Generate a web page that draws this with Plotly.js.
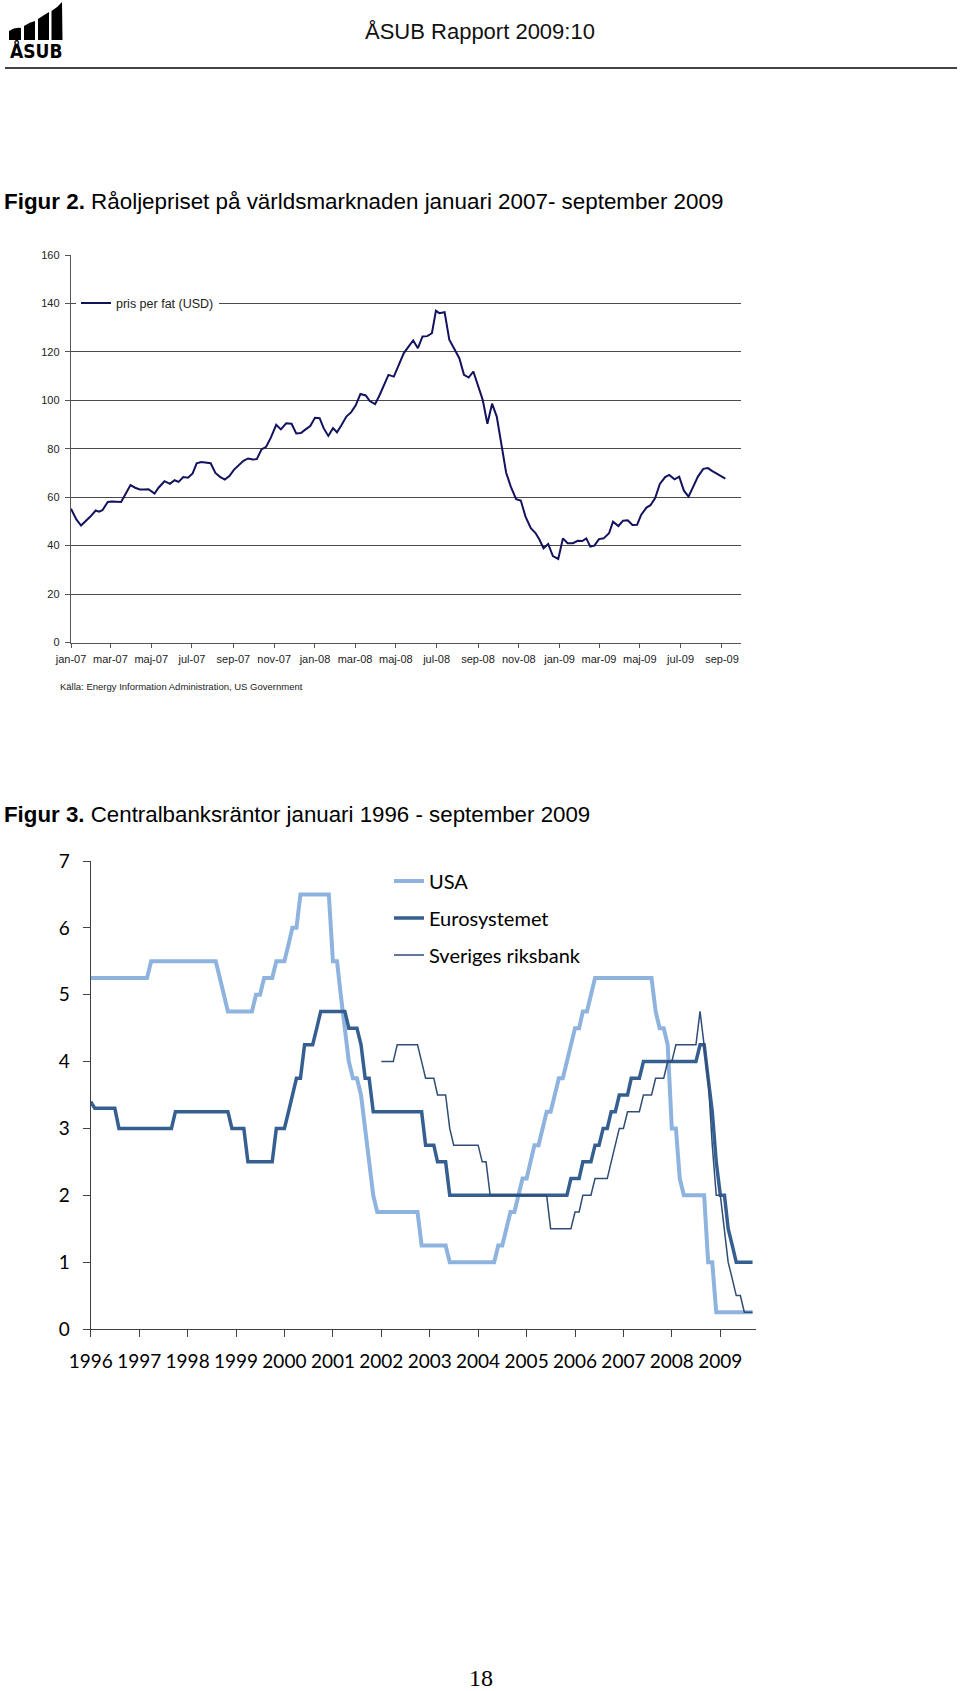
<!DOCTYPE html>
<html>
<head>
<meta charset="utf-8">
<script src="https://cdn.plot.ly/plotly-3.0.1.min.js"></script>
<style>
  html, body { margin: 0; padding: 0; background: #fff; }
  #chart { width: 960px; height: 1691px; }
</style>
</head>
<body>
<div id="chart"></div>
<script>
// ---------- Figur 2: oil price (weekly, USD per barrel) ----------
const oilDates = ["2007-01-01","2007-01-09","2007-01-16","2007-01-23","2007-01-30","2007-02-07","2007-02-12","2007-02-17","2007-02-25","2007-03-03","2007-03-11","2007-03-17","2007-03-24","2007-03-31","2007-04-07","2007-04-14","2007-04-20","2007-04-27","2007-05-06","2007-05-12","2007-05-21","2007-05-29","2007-06-05","2007-06-11","2007-06-18","2007-06-25","2007-07-02","2007-07-08","2007-07-15","2007-07-22","2007-07-29","2007-08-05","2007-08-12","2007-08-19","2007-08-26","2007-09-02","2007-09-09","2007-09-16","2007-09-23","2007-09-30","2007-10-06","2007-10-13","2007-10-20","2007-10-27","2007-11-04","2007-11-11","2007-11-19","2007-11-27","2007-12-04","2007-12-11","2007-12-18","2007-12-25","2008-01-01","2008-01-08","2008-01-14","2008-01-21","2008-01-28","2008-02-03","2008-02-10","2008-02-17","2008-02-24","2008-03-02","2008-03-09","2008-03-17","2008-03-23","2008-03-31","2008-04-07","2008-04-14","2008-04-20","2008-04-28","2008-05-05","2008-05-13","2008-05-20","2008-05-27","2008-06-03","2008-06-10","2008-06-17","2008-06-24","2008-06-30","2008-07-05","2008-07-13","2008-07-20","2008-07-27","2008-08-04","2008-08-11","2008-08-18","2008-08-25","2008-09-01","2008-09-08","2008-09-15","2008-09-22","2008-09-29","2008-10-06","2008-10-13","2008-10-20","2008-10-28","2008-11-04","2008-11-11","2008-11-19","2008-11-26","2008-12-02","2008-12-08","2008-12-15","2008-12-22","2008-12-30","2009-01-06","2009-01-13","2009-01-21","2009-01-28","2009-02-04","2009-02-10","2009-02-16","2009-02-22","2009-03-01","2009-03-08","2009-03-16","2009-03-22","2009-03-30","2009-04-06","2009-04-13","2009-04-20","2009-04-27","2009-05-03","2009-05-11","2009-05-17","2009-05-24","2009-05-31","2009-06-08","2009-06-14","2009-06-22","2009-06-29","2009-07-06","2009-07-13","2009-07-20","2009-07-27","2009-08-04","2009-08-11","2009-08-17","2009-08-24","2009-08-30","2009-09-06"];
const oilPrice = [55.2,50.8,48.3,50,52,54.5,54,54.6,58,58.2,58.2,58,61.5,65,63.9,63.2,63.2,63.3,61.5,63.9,66.6,65.5,67,66.3,68.3,68,69.8,74,74.5,74.1,74,70,68.4,67.3,68.7,71.4,73.1,75,76,75.6,75.7,79.7,80.8,84.6,89.9,88,90.5,90.3,86.3,86.5,88,89.4,92.8,92.6,88.5,85.3,88.5,86.8,89.9,93.3,95,97.9,102.6,102,99.7,98.4,102.3,106.8,110.5,109.8,114.5,119.5,122.2,124.7,121.5,126.4,126.5,127.7,137,136,136.4,125,121.5,117.4,110.5,109.4,111.9,106.4,100.2,90.3,98.6,93.3,80.9,70.2,64.4,59.2,58.6,52,47.2,45.2,42.4,38.9,40.7,35.7,34.5,43,41,41,42,41.9,43,39.6,40,42.7,43,45.1,49.9,48.1,50.3,50.5,48.5,48.6,52.7,55.7,56.7,59.6,65.5,68.3,69.2,67.4,68.5,62.7,60.2,64.6,68.5,71.7,72,70.9,69.8,68.8,67.7];
const oilTickVals = ["2007-01-01","2007-03-01","2007-05-01","2007-07-01","2007-09-01","2007-11-01","2008-01-01","2008-03-01","2008-05-01","2008-07-01","2008-09-01","2008-11-01","2009-01-01","2009-03-01","2009-05-01","2009-07-01","2009-09-01"];
const oilTickText = ["jan-07","mar-07","maj-07","jul-07","sep-07","nov-07","jan-08","mar-08","maj-08","jul-08","sep-08","nov-08","jan-09","mar-09","maj-09","jul-09","sep-09"];
const oilSeriesName = "pris per fat (USD)";

// ---------- Figur 3: central bank rates (monthly, %) ----------
const rateMonths = [
"1996-01","1996-02","1996-03","1996-04","1996-05","1996-06","1996-07","1996-08","1996-09","1996-10","1996-11","1996-12",
"1997-01","1997-02","1997-03","1997-04","1997-05","1997-06","1997-07","1997-08","1997-09","1997-10","1997-11","1997-12",
"1998-01","1998-02","1998-03","1998-04","1998-05","1998-06","1998-07","1998-08","1998-09","1998-10","1998-11","1998-12",
"1999-01","1999-02","1999-03","1999-04","1999-05","1999-06","1999-07","1999-08","1999-09","1999-10","1999-11","1999-12",
"2000-01","2000-02","2000-03","2000-04","2000-05","2000-06","2000-07","2000-08","2000-09","2000-10","2000-11","2000-12",
"2001-01","2001-02","2001-03","2001-04","2001-05","2001-06","2001-07","2001-08","2001-09","2001-10","2001-11","2001-12",
"2002-01","2002-02","2002-03","2002-04","2002-05","2002-06","2002-07","2002-08","2002-09","2002-10","2002-11","2002-12",
"2003-01","2003-02","2003-03","2003-04","2003-05","2003-06","2003-07","2003-08","2003-09","2003-10","2003-11","2003-12",
"2004-01","2004-02","2004-03","2004-04","2004-05","2004-06","2004-07","2004-08","2004-09","2004-10","2004-11","2004-12",
"2005-01","2005-02","2005-03","2005-04","2005-05","2005-06","2005-07","2005-08","2005-09","2005-10","2005-11","2005-12",
"2006-01","2006-02","2006-03","2006-04","2006-05","2006-06","2006-07","2006-08","2006-09","2006-10","2006-11","2006-12",
"2007-01","2007-02","2007-03","2007-04","2007-05","2007-06","2007-07","2007-08","2007-09","2007-10","2007-11","2007-12",
"2008-01","2008-02","2008-03","2008-04","2008-05","2008-06","2008-07","2008-08","2008-09","2008-10","2008-11","2008-12",
"2009-01","2009-02","2009-03","2009-04","2009-05","2009-06","2009-07","2009-08","2009-09"];

const usaRate = [
5.25,5.25,5.25,5.25,5.25,5.25,5.25,5.25,5.25,5.25,5.25,5.25,
5.25,5.25,5.25,5.5,5.5,5.5,5.5,5.5,5.5,5.5,5.5,5.5,
5.5,5.5,5.5,5.5,5.5,5.5,5.5,5.5,5.25,5.0,4.75,4.75,
4.75,4.75,4.75,4.75,4.75,5.0,5.0,5.25,5.25,5.25,5.5,5.5,
5.5,5.75,6.0,6.0,6.5,6.5,6.5,6.5,6.5,6.5,6.5,6.5,
5.5,5.5,5.0,4.5,4.0,3.75,3.75,3.5,3.0,2.5,2.0,1.75,
1.75,1.75,1.75,1.75,1.75,1.75,1.75,1.75,1.75,1.75,1.25,1.25,
1.25,1.25,1.25,1.25,1.25,1.0,1.0,1.0,1.0,1.0,1.0,1.0,
1.0,1.0,1.0,1.0,1.0,1.25,1.25,1.5,1.75,1.75,2.0,2.25,
2.25,2.5,2.75,2.75,3.0,3.25,3.25,3.5,3.75,3.75,4.0,4.25,
4.5,4.5,4.75,4.75,5.0,5.25,5.25,5.25,5.25,5.25,5.25,5.25,
5.25,5.25,5.25,5.25,5.25,5.25,5.25,5.25,4.75,4.5,4.5,4.25,
3.0,3.0,2.25,2.0,2.0,2.0,2.0,2.0,2.0,1.0,1.0,0.25,
0.25,0.25,0.25,0.25,0.25,0.25,0.25,0.25,0.25];

const euroRate = [
3.4,3.3,3.3,3.3,3.3,3.3,3.3,3.0,3.0,3.0,3.0,3.0,
3.0,3.0,3.0,3.0,3.0,3.0,3.0,3.0,3.0,3.25,3.25,3.25,
3.25,3.25,3.25,3.25,3.25,3.25,3.25,3.25,3.25,3.25,3.25,3.0,
3.0,3.0,3.0,2.5,2.5,2.5,2.5,2.5,2.5,2.5,3.0,3.0,
3.0,3.25,3.5,3.75,3.75,4.25,4.25,4.25,4.5,4.75,4.75,4.75,
4.75,4.75,4.75,4.75,4.5,4.5,4.5,4.25,3.75,3.75,3.25,3.25,
3.25,3.25,3.25,3.25,3.25,3.25,3.25,3.25,3.25,3.25,3.25,2.75,
2.75,2.75,2.5,2.5,2.5,2.0,2.0,2.0,2.0,2.0,2.0,2.0,
2.0,2.0,2.0,2.0,2.0,2.0,2.0,2.0,2.0,2.0,2.0,2.0,
2.0,2.0,2.0,2.0,2.0,2.0,2.0,2.0,2.0,2.0,2.0,2.25,
2.25,2.25,2.5,2.5,2.5,2.75,2.75,3.0,3.0,3.25,3.25,3.5,
3.5,3.5,3.75,3.75,3.75,4.0,4.0,4.0,4.0,4.0,4.0,4.0,
4.0,4.0,4.0,4.0,4.0,4.0,4.0,4.25,4.25,3.75,3.25,2.5,
2.0,2.0,1.5,1.25,1.0,1.0,1.0,1.0,1.0];

const riksbankRate = [
null,null,null,null,null,null,null,null,null,null,null,null,
null,null,null,null,null,null,null,null,null,null,null,null,
null,null,null,null,null,null,null,null,null,null,null,null,
null,null,null,null,null,null,null,null,null,null,null,null,
null,null,null,null,null,null,null,null,null,null,null,null,
null,null,null,null,null,null,null,null,null,null,null,null,
4.0,4.0,4.0,4.0,4.25,4.25,4.25,4.25,4.25,4.25,4.0,3.75,
3.75,3.75,3.5,3.5,3.5,3.0,2.75,2.75,2.75,2.75,2.75,2.75,
2.75,2.5,2.5,2.0,2.0,2.0,2.0,2.0,2.0,2.0,2.0,2.0,
2.0,2.0,2.0,2.0,2.0,2.0,1.5,1.5,1.5,1.5,1.5,1.5,
1.75,1.75,2.0,2.0,2.0,2.25,2.25,2.25,2.25,2.5,2.75,3.0,
3.0,3.25,3.25,3.25,3.25,3.5,3.5,3.5,3.75,3.75,3.75,4.0,
4.0,4.25,4.25,4.25,4.25,4.25,4.25,4.75,4.25,3.75,2.75,2.0,
2.0,1.5,1.0,0.75,0.5,0.5,0.25,0.25,0.25];

const yearTickVals = ["1996-01-01","1997-01-01","1998-01-01","1999-01-01","2000-01-01","2001-01-01","2002-01-01","2003-01-01","2004-01-01","2005-01-01","2006-01-01","2007-01-01","2008-01-01","2009-01-01"];
const yearTickText = ["1996","1997","1998","1999","2000","2001","2002","2003","2004","2005","2006","2007","2008","2009"];
const rateNames = ["USA","Eurosystemet","Sveriges riksbank"];

// ---------- page geometry helpers (pixel -> paper fraction) ----------
const W = 960, H = 1691;
const px = x => x / W;
const py = y => 1 - y / H;

const ARIAL = "Liberation Sans, Arial, sans-serif";
const CAL = "Lato, Carlito, Calibri, sans-serif";

const traces = [
  {
    type: "scatter", mode: "lines", x: oilDates, y: oilPrice,
    name: oilSeriesName, xaxis: "x", yaxis: "y", legend: "legend",
    line: { color: "#12125e", width: 2 }
  },
  {
    type: "scatter", mode: "lines", x: rateMonths, y: usaRate,
    name: rateNames[0], xaxis: "x2", yaxis: "y2", legend: "legend2", legendgroup: "a",
    line: { color: "#8fb3df", width: 4 }
  },
  {
    type: "scatter", mode: "lines", x: rateMonths, y: euroRate,
    name: rateNames[1], xaxis: "x2", yaxis: "y2", legend: "legend2", legendgroup: "b",
    line: { color: "#365f91", width: 3.5 }
  },
  {
    type: "scatter", mode: "lines", x: rateMonths, y: riksbankRate,
    name: rateNames[2], xaxis: "x2", yaxis: "y2", legend: "legend2", legendgroup: "c",
    connectgaps: false,
    line: { color: "#2f4d75", width: 1.5 }
  }
];

const layout = {
  width: W, height: H,
  margin: { l: 0, r: 0, t: 0, b: 0 },
  paper_bgcolor: "#fff", plot_bgcolor: "rgba(0,0,0,0)",
  showlegend: true,
  // ----- chart 1 axes -----
  xaxis: {
    type: "date", anchor: "y", domain: [px(71), px(740.7)],
    range: ["2007-01-01", "2009-09-29"],
    tickmode: "array", tickvals: oilTickVals, ticktext: oilTickText,
    ticks: "outside", ticklen: 4, tickcolor: "#555", tickwidth: 1,
    showline: true, linecolor: "#555", linewidth: 1.2,
    showgrid: false, zeroline: false,
    tickfont: { family: ARIAL, size: 11, color: "#222" },
    ticklabelstandoff: 2, fixedrange: true
  },
  yaxis: {
    anchor: "x", domain: [py(642.5), py(255)],
    range: [0, 160], tick0: 0, dtick: 20,
    ticks: "outside", ticklen: 5, tickcolor: "#555",
    showline: true, linecolor: "#555", linewidth: 1.2,
    showgrid: true, gridcolor: "#4a4a4a", gridwidth: 1,
    zeroline: false,
    tickfont: { family: ARIAL, size: 11, color: "#222" },
    ticklabelstandoff: 3, fixedrange: true
  },
  // ----- chart 2 axes -----
  xaxis2: {
    type: "date", anchor: "y2", domain: [px(90.7), px(756)],
    range: ["1996-01-01", "2009-09-27"],
    tickmode: "array", tickvals: yearTickVals, ticktext: yearTickText,
    ticks: "outside", ticklen: 7, tickcolor: "#404040", tickwidth: 1,
    showline: true, linecolor: "#404040", linewidth: 1,
    showgrid: false, zeroline: false,
    tickfont: { family: CAL, size: 19, color: "#000" },
    ticklabelstandoff: 8, fixedrange: true
  },
  yaxis2: {
    anchor: "x2", domain: [py(1329), py(861)],
    range: [0, 7], tick0: 0, dtick: 1,
    ticks: "outside", ticklen: 7, tickcolor: "#404040",
    showline: true, linecolor: "#404040", linewidth: 1,
    showgrid: false, zeroline: false,
    tickfont: { family: CAL, size: 19, color: "#000" },
    ticklabelstandoff: 9, fixedrange: true
  },
  // overlay axes that only add the inner half of the cross tick marks
  xaxis3: {
    type: "date", overlaying: "x2", anchor: "y2", side: "bottom",
    range: ["1996-01-01", "2009-09-27"],
    tickmode: "array", tickvals: yearTickVals,
    ticks: "inside", ticklen: 7, tickcolor: "#404040", tickwidth: 1,
    showticklabels: false, showline: false, showgrid: false, zeroline: false, fixedrange: true
  },
  yaxis3: {
    overlaying: "y2", anchor: "x2", side: "left",
    range: [0, 7], tick0: 0, dtick: 1,
    ticks: "inside", ticklen: 7, tickcolor: "#404040",
    showticklabels: false, showline: false, showgrid: false, zeroline: false, fixedrange: true
  },
  legend: {
    x: px(76), y: py(303.3), xanchor: "left", yanchor: "middle",
    bgcolor: "#fff", borderwidth: 0,
    font: { family: ARIAL, size: 12.5, color: "#222" }
  },
  legend2: {
    x: px(389), y: py(861.5), xanchor: "left", yanchor: "top",
    bgcolor: "rgba(0,0,0,0)", borderwidth: 0, tracegroupgap: 8,
    font: { family: CAL, size: 20, color: "#000" }
  },
  annotations: [
    { xref: "paper", yref: "paper", x: px(479.5), y: py(32), xanchor: "center", yanchor: "middle",
      text: "ÅSUB Rapport 2009:10", showarrow: false,
      font: { family: ARIAL, size: 22, color: "#111" } },
    { xref: "paper", yref: "paper", x: px(36), y: py(50), xanchor: "center", yanchor: "middle",
      text: "<b>ÅSUB</b>", showarrow: false,
      font: { family: "DejaVu Sans Condensed, DejaVu Sans, sans-serif", size: 19, color: "#000" } },
    { xref: "paper", yref: "paper", x: px(2), y: py(201.7), xanchor: "left", yanchor: "middle",
      text: "<b>Figur 2.</b> Råoljepriset på världsmarknaden januari 2007- september 2009", showarrow: false,
      font: { family: ARIAL, size: 22.4, color: "#000" } },
    { xref: "paper", yref: "paper", x: px(58), y: py(686.7), xanchor: "left", yanchor: "middle",
      text: "Källa: Energy Information Administration, US Government", showarrow: false,
      font: { family: ARIAL, size: 9.5, color: "#222" } },
    { xref: "paper", yref: "paper", x: px(2), y: py(814.5), xanchor: "left", yanchor: "middle",
      text: "<b>Figur 3.</b> Centralbanksräntor januari 1996 - september 2009", showarrow: false,
      font: { family: ARIAL, size: 22.3, color: "#000" } },
    { xref: "paper", yref: "paper", x: px(480.5), y: py(1678), xanchor: "center", yanchor: "middle",
      text: "18", showarrow: false,
      font: { family: "Liberation Serif, Times New Roman, serif", size: 24, color: "#000" } }
  ],
  shapes: [
    // header rule
    { type: "line", xref: "paper", yref: "paper", x0: px(5), x1: px(957), y0: py(68), y1: py(68),
      line: { color: "#444", width: 2 } },
    // logo columns
    { type: "path", xref: "paper", yref: "paper",
      path: `M ${px(9)} ${py(40)} L ${px(9)} ${py(31)} Q ${px(15)} ${py(27)} ${px(21)} ${py(28)} L ${px(21)} ${py(40)} Z`,
      fillcolor: "#000", line: { width: 0 } },
    { type: "path", xref: "paper", yref: "paper",
      path: `M ${px(24)} ${py(40)} L ${px(24)} ${py(26)} Q ${px(30)} ${py(22)} ${px(35)} ${py(21)} L ${px(35)} ${py(40)} Z`,
      fillcolor: "#000", line: { width: 0 } },
    { type: "path", xref: "paper", yref: "paper",
      path: `M ${px(38)} ${py(40)} L ${px(38)} ${py(19)} Q ${px(44)} ${py(15)} ${px(49)} ${py(12)} L ${px(49)} ${py(40)} Z`,
      fillcolor: "#000", line: { width: 0 } },
    { type: "path", xref: "paper", yref: "paper",
      path: `M ${px(51.5)} ${py(40)} L ${px(51.5)} ${py(11)} Q ${px(58)} ${py(7)} ${px(62)} ${py(2)} L ${px(62.5)} ${py(40)} Z`,
      fillcolor: "#000", line: { width: 0 } }
  ]
};

Plotly.newPlot("chart", traces, layout, { staticPlot: true, displayModeBar: false });
</script>
</body>
</html>
